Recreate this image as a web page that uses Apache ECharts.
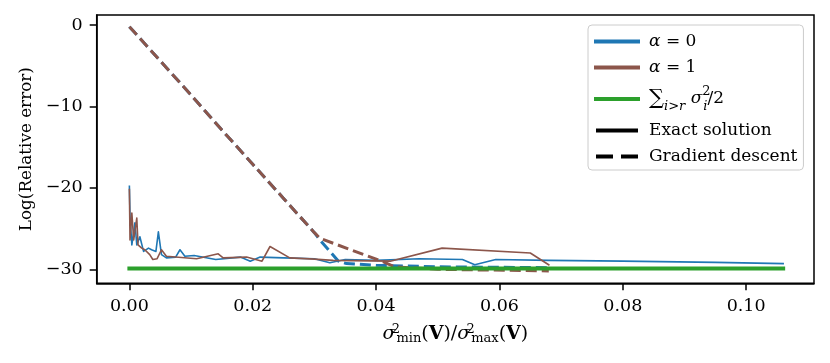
<!DOCTYPE html>
<html>
<head>
<meta charset="utf-8">
<script src="https://cdn.jsdelivr.net/npm/echarts@6/dist/echarts.min.js"></script>
<style>
  html, body { margin: 0; padding: 0; background: #fff; }
  #chart { width: 830px; height: 363px; }
</style>
</head>
<body>
<div id="chart"></div>
<script>
// ticks
var xTicks = [0, 0.02, 0.04, 0.06, 0.08, 0.10];
var yTicks = [0, -10, -20, -30];

// exact solution, alpha = 0
var exactX0 = [0, 0.0001, 0.0004, 0.0009, 0.0012, 0.0017, 0.0023, 0.0031, 0.0036, 0.0043, 0.0047, 0.0052,
    0.006, 0.0075, 0.0082, 0.009, 0.0105, 0.014, 0.018, 0.0196, 0.0212, 0.025, 0.03, 0.0325, 0.035,
    0.04, 0.047, 0.054, 0.056, 0.0594, 0.068, 0.08, 0.095, 0.106];
var exactY0 = [-19.8, -23.5, -27.0, -24.3, -27.0, -26.0, -27.8, -27.4, -27.6, -27.8, -25.4, -28.2,
    -28.6, -28.5, -27.6, -28.4, -28.3, -28.8, -28.5, -29.0, -28.5, -28.6, -28.7, -29.2, -28.8,
    -28.9, -28.7, -28.8, -29.45, -28.8, -28.9, -29.0, -29.15, -29.3];

// exact solution, alpha = 1
var exactX1 = [0, 0.0001, 0.0004, 0.0007, 0.0012, 0.0014, 0.002, 0.0025, 0.0033, 0.0038, 0.0045, 0.0052,
    0.006, 0.0109, 0.0144, 0.0152, 0.019, 0.0215, 0.0228, 0.026, 0.03, 0.033, 0.0423, 0.0507, 0.065, 0.068];
var exactY1 = [-20.2, -26.4, -23.1, -26.4, -23.7, -27.0, -27.4, -27.6, -28.2, -28.8, -28.7, -27.6,
    -28.4, -28.7, -28.1, -28.6, -28.5, -29.0, -27.2, -28.6, -28.75, -28.9, -29.0, -27.4, -28.0, -29.45];

// gradient descent, alpha = 0
var gdX0 = [0, 0.005, 0.01, 0.015, 0.02, 0.025, 0.03, 0.0309, 0.0339, 0.0352, 0.04, 0.05, 0.068];
var gdY0 = [-0.2, -4.4, -8.6, -12.9, -17.1, -21.3, -25.5, -26.4, -29.0, -29.3, -29.5, -29.7, -29.8];

// gradient descent, alpha = 1
var gdX1 = [0, 0.005, 0.01, 0.015, 0.02, 0.025, 0.03, 0.0309, 0.0409, 0.043, 0.05, 0.068];
var gdY1 = [-0.2, -4.4, -8.6, -12.9, -17.1, -21.3, -25.5, -26.2, -29.0, -29.7, -30.0, -30.2];

// sum_{i>r} sigma_i^2 / 2
var sumX = [0, 0.106];
var sumY = [-29.9, -29.9];

var FONT = 'DejaVu Serif';

function pairs(xs, ys) {
    return xs.map(function (x, i) { return [x, ys[i]]; });
}

function makeRich(size, opLine) {
    return {
        n: { fontFamily: FONT, fontSize: size, lineHeight: 22, color: '#000' },
        i: { fontFamily: FONT, fontSize: size, lineHeight: 22, fontStyle: 'italic', color: '#000' },
        b: { fontFamily: FONT, fontSize: size, lineHeight: 22, fontWeight: 'bold', color: '#000' },
        op: { fontFamily: FONT, fontSize: size + 4, lineHeight: opLine, color: '#000' },
        sup: { fontFamily: FONT, fontSize: 13, lineHeight: 13, verticalAlign: 'top', width: 1, color: '#000' },
        sub: { fontFamily: FONT, fontSize: 13, lineHeight: 13, verticalAlign: 'bottom', color: '#000' },
        subi: { fontFamily: FONT, fontSize: 13, lineHeight: 13, verticalAlign: 'bottom', fontStyle: 'italic', color: '#000' }
    };
}

var legendText = {
    a0: '{i|α}{n| = 0}',
    a1: '{i|α}{n| = 1}',
    sum: '{op|∑}{subi|i}{sub|>}{subi|r}{n| }{i|σ}{sup|2}{subi|i}{n|/2}',
    exact: '{n|Exact solution}',
    gd: '{n|Gradient descent}'
};

var chart = echarts.init(document.getElementById('chart'));
chart.setOption({
    animation: false,
    grid: {
        left: 96.7, right: 16, top: 15, bottom: 79.7,
        show: true, borderColor: '#000', borderWidth: 1.5
    },
    xAxis: {
        type: 'value',
        min: -0.0053, max: 0.1110,
        name: '{i|σ}{sup|2}{sub|min}{n|(}{b|V}{n|)/}{i|σ}{sup|2}{sub|max}{n|(}{b|V}{n|)}',
        nameLocation: 'middle',
        nameGap: 40,
        nameTextStyle: { rich: makeRich(19, 24) },
        axisLine: { onZero: false, lineStyle: { color: '#000', width: 1.5 } },
        axisTick: { customValues: xTicks, length: 7, lineStyle: { color: '#000', width: 1.5 } },
        axisLabel: {
            customValues: xTicks, margin: 14,
            fontFamily: FONT, fontSize: 17.5, color: '#000',
            formatter: function (v) { return v.toFixed(2); }
        },
        splitLine: { show: false }
    },
    yAxis: {
        type: 'value',
        min: -31.72, max: 1.23,
        name: 'Log(Relative error)',
        nameLocation: 'middle',
        nameGap: 62,
        nameTextStyle: { fontFamily: FONT, fontSize: 16.8, color: '#000' },
        axisLine: { show: true, onZero: false, lineStyle: { color: '#000', width: 1.5 } },
        axisTick: { show: true, customValues: yTicks, length: 7, lineStyle: { color: '#000', width: 1.5 } },
        axisLabel: {
            customValues: yTicks, margin: 14,
            fontFamily: FONT, fontSize: 17.5, color: '#000',
            formatter: function (v) { return v < 0 ? '\u2212' + Math.abs(v) : String(v); }
        },
        splitLine: { show: false }
    },
    legend: {
        orient: 'vertical',
        left: 588, top: 25,
        padding: [8, 6, 5, 6],
        itemWidth: 42, itemHeight: 14, itemGap: 9,
        backgroundColor: 'rgba(255,255,255,0.8)',
        borderColor: '#cccccc', borderWidth: 1, borderRadius: 4,
        selectedMode: false,
        itemStyle: { opacity: 0 },
        textStyle: { rich: makeRich(17, 28), padding: [0, 0, 0, 6] },
        formatter: function (name) { return legendText[name]; },
        data: [
            { name: 'a0', lineStyle: { width: 4, opacity: 1 } },
            { name: 'a1', lineStyle: { width: 4, opacity: 1 } },
            { name: 'sum', lineStyle: { width: 4, opacity: 1 } },
            { name: 'exact', lineStyle: { width: 4, opacity: 1 } },
            { name: 'gd', lineStyle: { width: 4, opacity: 1, type: [17, 8] } }
        ]
    },
    series: [
        {
            name: 'a0', type: 'line', symbol: 'none', color: '#1f77b4',
            lineStyle: { width: 1.6, cap: 'square', join: 'round' },
            data: pairs(exactX0, exactY0)
        },
        {
            name: 'a0', type: 'line', symbol: 'none', color: '#1f77b4',
            lineStyle: { width: 3, type: [11, 5] },
            data: pairs(gdX0, gdY0)
        },
        {
            name: 'a1', type: 'line', symbol: 'none', color: '#8c564b',
            lineStyle: { width: 1.6, cap: 'square', join: 'round' },
            data: pairs(exactX1, exactY1)
        },
        {
            name: 'a1', type: 'line', symbol: 'none', color: '#8c564b',
            lineStyle: { width: 3, type: [11, 5] },
            data: pairs(gdX1, gdY1)
        },
        {
            name: 'sum', type: 'line', symbol: 'none', color: '#2ca02c',
            lineStyle: { width: 4, cap: 'square' },
            data: pairs(sumX, sumY)
        },
        {
            name: 'exact', type: 'line', symbol: 'none', color: '#000',
            lineStyle: { width: 4 }, data: []
        },
        {
            name: 'gd', type: 'line', symbol: 'none', color: '#000',
            lineStyle: { width: 4, type: [17, 8] }, data: []
        }
    ]
});
</script>
</body>
</html>
